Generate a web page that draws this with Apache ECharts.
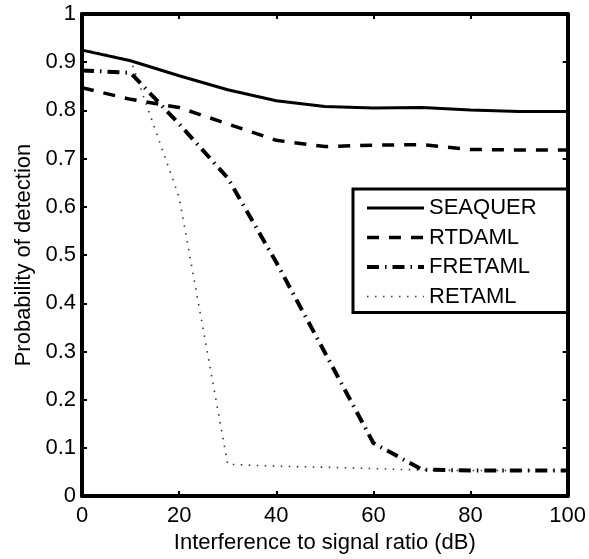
<!DOCTYPE html>
<html>
<head>
<meta charset="utf-8">
<script src="https://cdn.jsdelivr.net/npm/echarts@6/dist/echarts.min.js"></script>
<style>
html,body{margin:0;padding:0;background:#fff;}
#chart{width:589px;height:559px;}
</style>
</head>
<body>
<div id="chart"></div>
<script>
var xValues = [0, 10, 20, 30, 40, 50, 60, 70, 80, 90, 100];
var seaquer = [0.925, 0.903, 0.872, 0.843, 0.820, 0.808, 0.805, 0.806, 0.801, 0.798, 0.798];
var rtdaml  = [0.847, 0.823, 0.806, 0.772, 0.738, 0.725, 0.728, 0.729, 0.719, 0.718, 0.718];
var fretaml = [0.883, 0.878, 0.772, 0.660, 0.485, 0.298, 0.110, 0.055, 0.053, 0.053, 0.053];
var retaml  = [0.927, 0.905, 0.620, 0.066, 0.062, 0.060, 0.057, 0.054, 0.053, 0.053, 0.053];
var seriesNames = ['SEAQUER', 'RTDAML', 'FRETAML', 'RETAML'];
var xTitle = 'Interference to signal ratio (dB)';
var yTitle = 'Probability of detection';

function pairs(ys) { return xValues.map(function (x, i) { return [x, ys[i]]; }); }

var FONT = 'Liberation Sans';
var FS = 22;
var axisLineStyle = { color: '#000', width: 4 };
var tickStyle = { color: '#000', width: 2 };

var chart = echarts.init(document.getElementById('chart'), null, { renderer: 'canvas' });
chart.setOption({
  animation: false,
  backgroundColor: '#fff',
  grid: { left: 82, right: 20, top: 14, bottom: 58, containLabel: false },
  xAxis: [{
    type: 'value', min: 0, max: 100, interval: 20, position: 'bottom',
    name: xTitle, nameLocation: 'middle', nameGap: 30,
    nameTextStyle: { fontFamily: FONT, fontSize: FS, color: '#000' },
    axisLine: { show: true, onZero: false, lineStyle: axisLineStyle },
    axisTick: { show: true, inside: true, length: 5, lineStyle: tickStyle },
    axisLabel: { margin: 9, fontFamily: FONT, fontSize: FS, color: '#000' },
    splitLine: { show: false }
  }, {
    type: 'value', min: 0, max: 100, interval: 20, position: 'top',
    axisLine: { show: true, onZero: false, lineStyle: axisLineStyle },
    axisTick: { show: true, inside: true, length: 5, lineStyle: tickStyle },
    axisLabel: { show: false }, splitLine: { show: false }
  }],
  yAxis: [{
    type: 'value', min: 0, max: 1, interval: 0.1, position: 'left',
    name: yTitle, nameLocation: 'middle', nameGap: 45, nameRotate: 90,
    nameTextStyle: { fontFamily: FONT, fontSize: FS, color: '#000' },
    axisLine: { show: true, onZero: false, lineStyle: axisLineStyle },
    axisTick: { show: true, inside: true, length: 5, lineStyle: tickStyle },
    axisLabel: { margin: 6, fontFamily: FONT, fontSize: FS, color: '#000' },
    splitLine: { show: false }
  }, {
    type: 'value', min: 0, max: 1, interval: 0.1, position: 'right',
    axisLine: { show: true, onZero: false, lineStyle: axisLineStyle },
    axisTick: { show: true, inside: true, length: 5, lineStyle: tickStyle },
    axisLabel: { show: false }, splitLine: { show: false }
  }],
  legend: {
    data: seriesNames,
    orient: 'vertical',
    left: 353, top: 189,
    padding: [8, 31, 5, 12],
    itemWidth: 57, itemHeight: 22, itemGap: 7.5,
    itemStyle: { opacity: 0 },
    lineStyle: { width: 'inherit', type: 'inherit', color: 'inherit' },
    backgroundColor: '#fff',
    borderColor: '#000', borderWidth: 3, borderRadius: 0,
    textStyle: { fontFamily: FONT, fontSize: FS, color: '#000' },
    selectedMode: false
  },
  series: [{
    name: seriesNames[0], type: 'line', data: pairs(seaquer), showSymbol: false, symbol: 'none',
    lineStyle: { color: '#000', width: 3, type: 'solid' }, itemStyle: { color: '#000' }, z: 4
  }, {
    name: seriesNames[1], type: 'line', data: pairs(rtdaml), showSymbol: false, symbol: 'none',
    lineStyle: { color: '#000', width: 3.5, type: [12, 10] }, itemStyle: { color: '#000' }, z: 3
  }, {
    name: seriesNames[2], type: 'line', data: pairs(fretaml), showSymbol: false, symbol: 'none',
    lineStyle: { color: '#000', width: 4, type: [12, 6, 1.5, 6] }, itemStyle: { color: '#000' }, z: 2
  }, {
    name: seriesNames[3], type: 'line', data: pairs(retaml), showSymbol: false, symbol: 'none',
    lineStyle: { color: '#333', width: 1.6, type: [1.5, 6.5] }, itemStyle: { color: '#333' }, z: 1
  }]
});
</script>
</body>
</html>
